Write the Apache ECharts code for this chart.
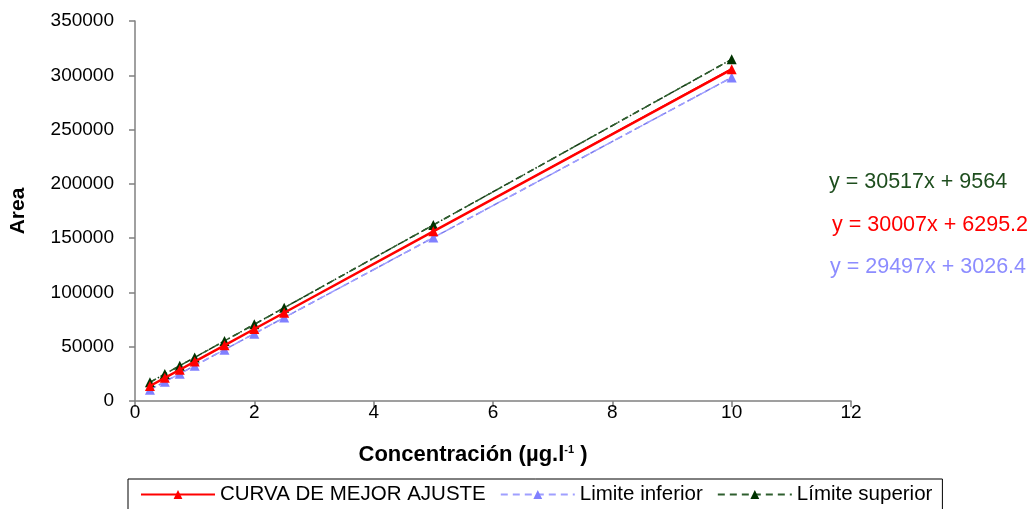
<!DOCTYPE html>
<html>
<head>
<meta charset="utf-8">
<script src="https://cdn.jsdelivr.net/npm/echarts@6/dist/echarts.min.js"></script>
<style>
  html, body { margin: 0; padding: 0; background: #fff; }
  #chart { width: 1032px; height: 509px; }
</style>
</head>
<body>
<div id="chart"></div>
<script>
// Calibration points (concentration, µg/l)
var concentrations = [0.25, 0.5, 0.75, 1, 1.5, 2, 2.5, 5, 10];

// Peak areas for each curve
var bestFit    = [13800, 21300, 28800, 36300, 51300, 66300, 81300, 156300, 305500];
var lowerLimit = [10400, 17800, 25100, 32500, 47300, 62000, 76800, 150500, 298000];
var upperLimit = [17200, 24800, 32500, 40100, 55300, 70600, 85900, 162100, 314700];

// Linear trendline coefficients (slope, intercept) as printed on the chart
var fitUpper = [30517, 9564];
var fitBest  = [30007, 6295.2];
var fitLower = [29497, 3026.4];

var seriesNames = ['CURVA DE MEJOR AJUSTE', 'Limite inferior', 'Límite superior'];
var xTicks = { min: 0, max: 12, interval: 2 };
var yTicks = { min: 0, max: 350000, interval: 50000 };

function pairs(xs, ys) {
  return xs.map(function (x, i) { return [x, ys[i]]; });
}
function trend(coef, xs) {
  var x0 = xs[0], x1 = xs[xs.length - 1];
  return [[x0, coef[0] * x0 + coef[1]], [x1, coef[0] * x1 + coef[1]]];
}
function eqText(coef) {
  return 'y = ' + coef[0] + 'x + ' + coef[1];
}

var FONT = 'Liberation Sans, Arial, sans-serif';
var RED = '#FF0000', BLUE = '#8080FF', BLUE_LINE = '#9F9FFF', GREEN = '#003300', GREEN_LINE = '#2E5E2E';

var chart = echarts.init(document.getElementById('chart'), null, { renderer: 'canvas' });

chart.setOption({
  backgroundColor: '#ffffff',
  animation: false,
  textStyle: { fontFamily: FONT },
  grid: { left: 133, right: 181, top: 21, bottom: 108, containLabel: false },
  xAxis: {
    type: 'value',
    min: xTicks.min, max: xTicks.max, interval: xTicks.interval,
    name: 'Concentración (µg.l{sup|-1} )',
    nameLocation: 'middle',
    nameGap: 43,
    nameTextStyle: {
      fontFamily: FONT, fontSize: 22, fontWeight: 'bold', color: '#000',
      padding: [0, 40, 0, 0],
      rich: { sup: { fontFamily: FONT, fontSize: 11, fontWeight: 'bold', color: '#000', padding: [0, 0, 10, 0] } }
    },
    axisLine: { show: true, lineStyle: { color: '#808080', width: 1.5 } },
    axisTick: { show: true, inside: false, length: 6, lineStyle: { color: '#808080', width: 1.5 } },
    axisLabel: { fontFamily: FONT, fontSize: 19, color: '#000', margin: 2 },
    splitLine: { show: false }
  },
  yAxis: {
    type: 'value',
    min: yTicks.min, max: yTicks.max, interval: yTicks.interval,
    name: 'Area',
    nameLocation: 'middle',
    nameGap: 106,
    nameRotate: 90,
    nameTextStyle: { fontFamily: FONT, fontSize: 21, fontWeight: 'bold', color: '#000' },
    axisLine: { show: true, lineStyle: { color: '#808080', width: 1.5 } },
    axisTick: { show: true, inside: false, length: 6, lineStyle: { color: '#808080', width: 1.5 } },
    axisLabel: {
      fontFamily: FONT, fontSize: 19, color: '#000', margin: 21,
      formatter: function (v) { return String(v); }
    },
    splitLine: { show: false }
  },
  legend: {
    data: seriesNames,
    left: 128,
    top: 479,
    orient: 'horizontal',
    itemWidth: 74,
    itemHeight: 11,
    itemGap: 14,
    padding: [5, 10, 8, 12],
    borderColor: '#000',
    borderWidth: 1,
    textStyle: { fontFamily: FONT, fontSize: 20.5, color: '#000' }
  },
  graphic: [
    { type: 'text', left: 829, top: 171, style: { text: eqText(fitUpper), fill: '#1E4E1E', font: '21.5px ' + FONT } },
    { type: 'text', left: 832, top: 214, style: { text: eqText(fitBest),  fill: RED,       font: '21.5px ' + FONT } },
    { type: 'text', left: 830, top: 256, style: { text: eqText(fitLower), fill: '#8C8CFF', font: '21.5px ' + FONT } }
  ],
  series: [
    // Fitted trendlines
    {
      name: 'trend-upper', type: 'line', data: trend(fitUpper, concentrations),
      symbol: 'none', silent: true, z: 1,
      lineStyle: { color: '#123A12', width: 1.5, type: [6, 3, 1.5, 3] }
    },
    {
      name: 'trend-lower', type: 'line', data: trend(fitLower, concentrations),
      symbol: 'none', silent: true, z: 1,
      lineStyle: { color: '#7A7AEE', width: 1.5, type: [6, 4] }
    },
    {
      name: 'trend-best', type: 'line', data: trend(fitBest, concentrations),
      symbol: 'none', silent: true, z: 1,
      lineStyle: { color: RED, width: 1 }
    },
    // Measured curves
    {
      name: seriesNames[1], type: 'line', data: pairs(concentrations, lowerLimit),
      symbol: 'triangle', symbolSize: 10, z: 2,
      itemStyle: { color: BLUE },
      lineStyle: { color: BLUE_LINE, width: 1.5, type: [7, 5] }
    },
    {
      name: seriesNames[2], type: 'line', data: pairs(concentrations, upperLimit),
      symbol: 'triangle', symbolSize: 10, z: 3,
      itemStyle: { color: GREEN },
      lineStyle: { color: GREEN_LINE, width: 1.5, type: [7, 5] }
    },
    {
      name: seriesNames[0], type: 'line', data: pairs(concentrations, bestFit),
      symbol: 'triangle', symbolSize: 10, z: 4,
      itemStyle: { color: RED },
      lineStyle: { color: RED, width: 2.5 }
    }
  ]
});
</script>
</body>
</html>
